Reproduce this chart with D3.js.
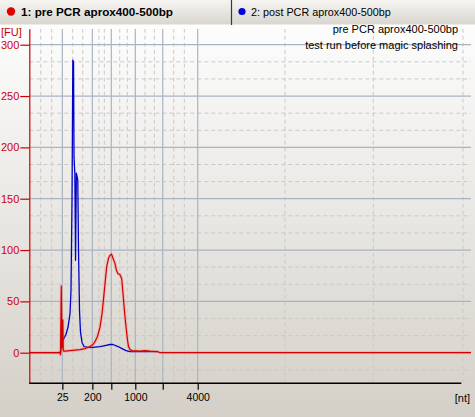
<!DOCTYPE html>
<html><head><meta charset="utf-8">
<script src="https://cdn.jsdelivr.net/npm/d3@7"></script>
<style>html,body{margin:0;padding:0;background:#d4d0c8;}svg{display:block;}</style>
</head><body>
<svg id="chart" width="475" height="417"></svg>
<script>
// ---- data ----
const seriesNames = ["1: pre PCR aprox400-500bp", "2: post PCR aprox400-500bp"];
const titleLines = ["pre PCR aprox400-500bp", "test run before magic splashing"];
// migration time (s) and fluorescence (FU)
const preTime = [20.00,23.59,23.84,23.90,23.96,24.00,24.06,24.13,24.19,24.25,24.34,24.46,25.09,26.34,26.96,27.59,27.96,28.21,28.53,28.84,29.09,29.25,29.46,29.68,29.90,30.09,30.28,30.46,30.71,30.90,31.09,31.34,31.55,31.71,31.90,32.09,32.28,32.40,32.59,32.84,33.84,34.46,35.09,36.09,36.34,75.21];
const preFU   = [0,0,0.5,-2,40,65,30,5,32,2,1.5,1.5,2,3,4,6,8,10.7,16,25,38,50,67,84,92,95,96,92,87,80,77,76,72,58,40,25,12,6,3,2,1.5,2,1.5,1,0,0];
const postTime = [20.00,23.84,23.90,24.00,24.06,24.13,24.19,24.34,24.59,24.84,25.09,25.21,25.34,25.44,25.53,25.59,25.69,25.78,25.88,25.96,26.06,26.15,26.28,26.40,26.59,26.84,27.59,28.84,29.46,30.09,30.46,31.09,31.59,32.09,32.59,35.09,36.09];
const postFU   = [0,0,-1,5,30,10,12,14,18,25,38,60,150,285,283,190,175,90,175,172,168,100,40,20,10,6,5,6,7,8,8,6,4,2,1,1,1];
const yTicks = [0,50,100,150,200,250,300];
const xTickPos = [24.13,27.88,30.25,33.25,36.68,41.05];
const xTickLabels = ["25","200","","1000","","4000"];
const xMinorPos = [21.43,22.8,25.43,26.68,28.71,29.38,31.3,32.25,34.46,35.63,38.05,39.38,51.96,63.0,74.21];

// ---- layout ----
const svg = d3.select("#chart");
const W = 475, H = 417;
const plotL = 29.3, plotR = 471, plotT = 28.7, plotB = 383.3;
const x = d3.scaleLinear().domain([20, 75.21]).range([plotL, plotR]);
const y = d3.scaleLinear().domain([-29.8, 315.6]).range([plotB, plotT]);

const defs = svg.append("defs");
const bg = defs.append("linearGradient").attr("id","bg").attr("x1",0).attr("y1",0).attr("x2",0).attr("y2",1);
bg.append("stop").attr("offset","0%").attr("stop-color","#fdfdfd");
bg.append("stop").attr("offset","100%").attr("stop-color","#d4d0c8");
const tb = defs.append("linearGradient").attr("id","tb").attr("x1",0).attr("y1",0).attr("x2",0).attr("y2",1);
tb.append("stop").attr("offset","0%").attr("stop-color","#f6f5f2");
tb.append("stop").attr("offset","100%").attr("stop-color","#d8d5ce");
defs.append("clipPath").attr("id","clip").append("rect")
  .attr("x",plotL).attr("y",plotT).attr("width",plotR-plotL).attr("height",plotB-plotT);

svg.append("rect").attr("x",0).attr("y",25).attr("width",W).attr("height",H-25).attr("fill","url(#bg)");

// grid
const grid = svg.append("g").attr("clip-path","url(#clip)");
const minorY = d3.range(-1,20).map(i => i*50/3).filter(v => Math.abs(v/50 - Math.round(v/50)) > 0.01);
grid.selectAll(".hm").data(minorY).join("line")
  .attr("x1",plotL).attr("x2",plotR).attr("y1",d=>y(d)).attr("y2",d=>y(d))
  .attr("stroke","#c9c9c9").attr("stroke-dasharray","4,3");
grid.selectAll(".vm").data(xMinorPos).join("line")
  .attr("x1",d=>x(d)).attr("x2",d=>x(d)).attr("y1",plotT).attr("y2",plotB)
  .attr("stroke","#c9c9c9").attr("stroke-dasharray","4,3");
grid.selectAll(".hM").data(yTicks.filter(d=>d>0)).join("line")
  .attr("x1",plotL).attr("x2",plotR).attr("y1",d=>y(d)).attr("y2",d=>y(d))
  .attr("stroke","#aab3c2").attr("stroke-width",1.2);
grid.selectAll(".vM").data(xTickPos).join("line")
  .attr("x1",d=>x(d)).attr("x2",d=>x(d)).attr("y1",plotT).attr("y2",plotB)
  .attr("stroke","#aab3c2").attr("stroke-width",1.2);

// traces
const line = d3.line().x(d=>x(d[0])).y(d=>y(d[1]));
const preData = preTime.map((t,i)=>[t,preFU[i]]);
const postData = postTime.map((t,i)=>[t,postFU[i]]);
const tr = svg.append("g").attr("clip-path","url(#clip)");
tr.append("path").datum(postData).attr("d",line).attr("fill","none")
  .attr("stroke","#0000c8").attr("stroke-width",1.3).attr("stroke-linejoin","round");
tr.append("path").datum(preData).attr("d",line).attr("fill","none")
  .attr("stroke","rgba(255,120,120,0.35)").attr("stroke-width",3.2).attr("stroke-linejoin","round");
tr.append("path").datum(preData).attr("d",line).attr("fill","none")
  .attr("stroke","#d40000").attr("stroke-width",1.2).attr("stroke-linejoin","round");

// y axis
const yAxis = d3.axisLeft(y).tickValues(yTicks).tickSize(9).tickPadding(1).tickSizeOuter(0);
const ya = svg.append("g").attr("transform",`translate(${plotL},0)`).call(yAxis);
ya.select(".domain").attr("stroke","#cc0000").attr("stroke-width",1.2);
ya.selectAll(".tick line").attr("stroke","#cc0000").attr("stroke-width",1.2);
ya.selectAll(".tick text").attr("fill","#cc0000").attr("font-size",11)
  .attr("font-family","Liberation Sans, Arial, sans-serif");
svg.append("text").attr("x",1).attr("y",36).attr("fill","#cc0000").attr("font-size",11)
  .attr("font-family","Liberation Sans, Arial, sans-serif").text("[FU]");

// x axis
const xAxis = d3.axisBottom(x).tickValues(xTickPos).tickFormat((d,i)=>xTickLabels[i]).tickSize(6.5).tickPadding(4).tickSizeOuter(0);
const xa = svg.append("g").attr("transform",`translate(0,${plotB})`).call(xAxis);
xa.select(".domain").remove();
xa.selectAll(".tick line").attr("stroke","#000").attr("stroke-width",1.2);
xa.selectAll(".tick text").attr("fill","#000").attr("font-size",10.5)
  .attr("font-family","Liberation Sans, Arial, sans-serif");
svg.append("line").attr("x1",plotL).attr("x2",x(74)).attr("y1",plotB).attr("y2",plotB)
  .attr("stroke","#000").attr("stroke-width",1.4);
svg.append("text").attr("x",470).attr("y",402).attr("text-anchor","end").attr("font-size",11)
  .attr("font-family","Liberation Sans, Arial, sans-serif").text("[nt]");

// tab bar
svg.append("rect").attr("x",0).attr("y",0).attr("width",W).attr("height",25).attr("fill","url(#tb)");
svg.append("line").attr("x1",0).attr("x2",W).attr("y1",25).attr("y2",25).attr("stroke","#ffffff");
svg.append("line").attr("x1",231.5).attr("x2",231.5).attr("y1",0).attr("y2",25).attr("stroke","#3a3a3a").attr("stroke-width",1.2);
const tabs = [{cx:11, tx:21, color:"#e00000", bold:true, size:11.7},{cx:242, tx:251, color:"#0000e0", bold:false, size:10.8}];
svg.selectAll(".dot").data(tabs).join("circle")
  .attr("cx",d=>d.cx).attr("cy",11.5).attr("r",(d,i)=>i===0?4.2:3.6).attr("fill",d=>d.color);
svg.selectAll(".tabt").data(tabs).join("text")
  .attr("x",d=>d.tx).attr("y",16).attr("font-family","Liberation Sans, Arial, sans-serif")
  .attr("font-size",d=>d.size).attr("font-weight",d=>d.bold?"bold":"normal").attr("fill","#000")
  .text((d,i)=>seriesNames[i]);

// titles (drawn last so they sit above the tab bar edge)
svg.selectAll(".title").data(titleLines).join("text")
  .attr("x",458).attr("y",(d,i)=>33+i*16).attr("text-anchor","end")
  .attr("font-family","Liberation Sans, Arial, sans-serif").attr("font-size",11)
  .attr("fill","#000").text(d=>d);
</script>
</body></html>
